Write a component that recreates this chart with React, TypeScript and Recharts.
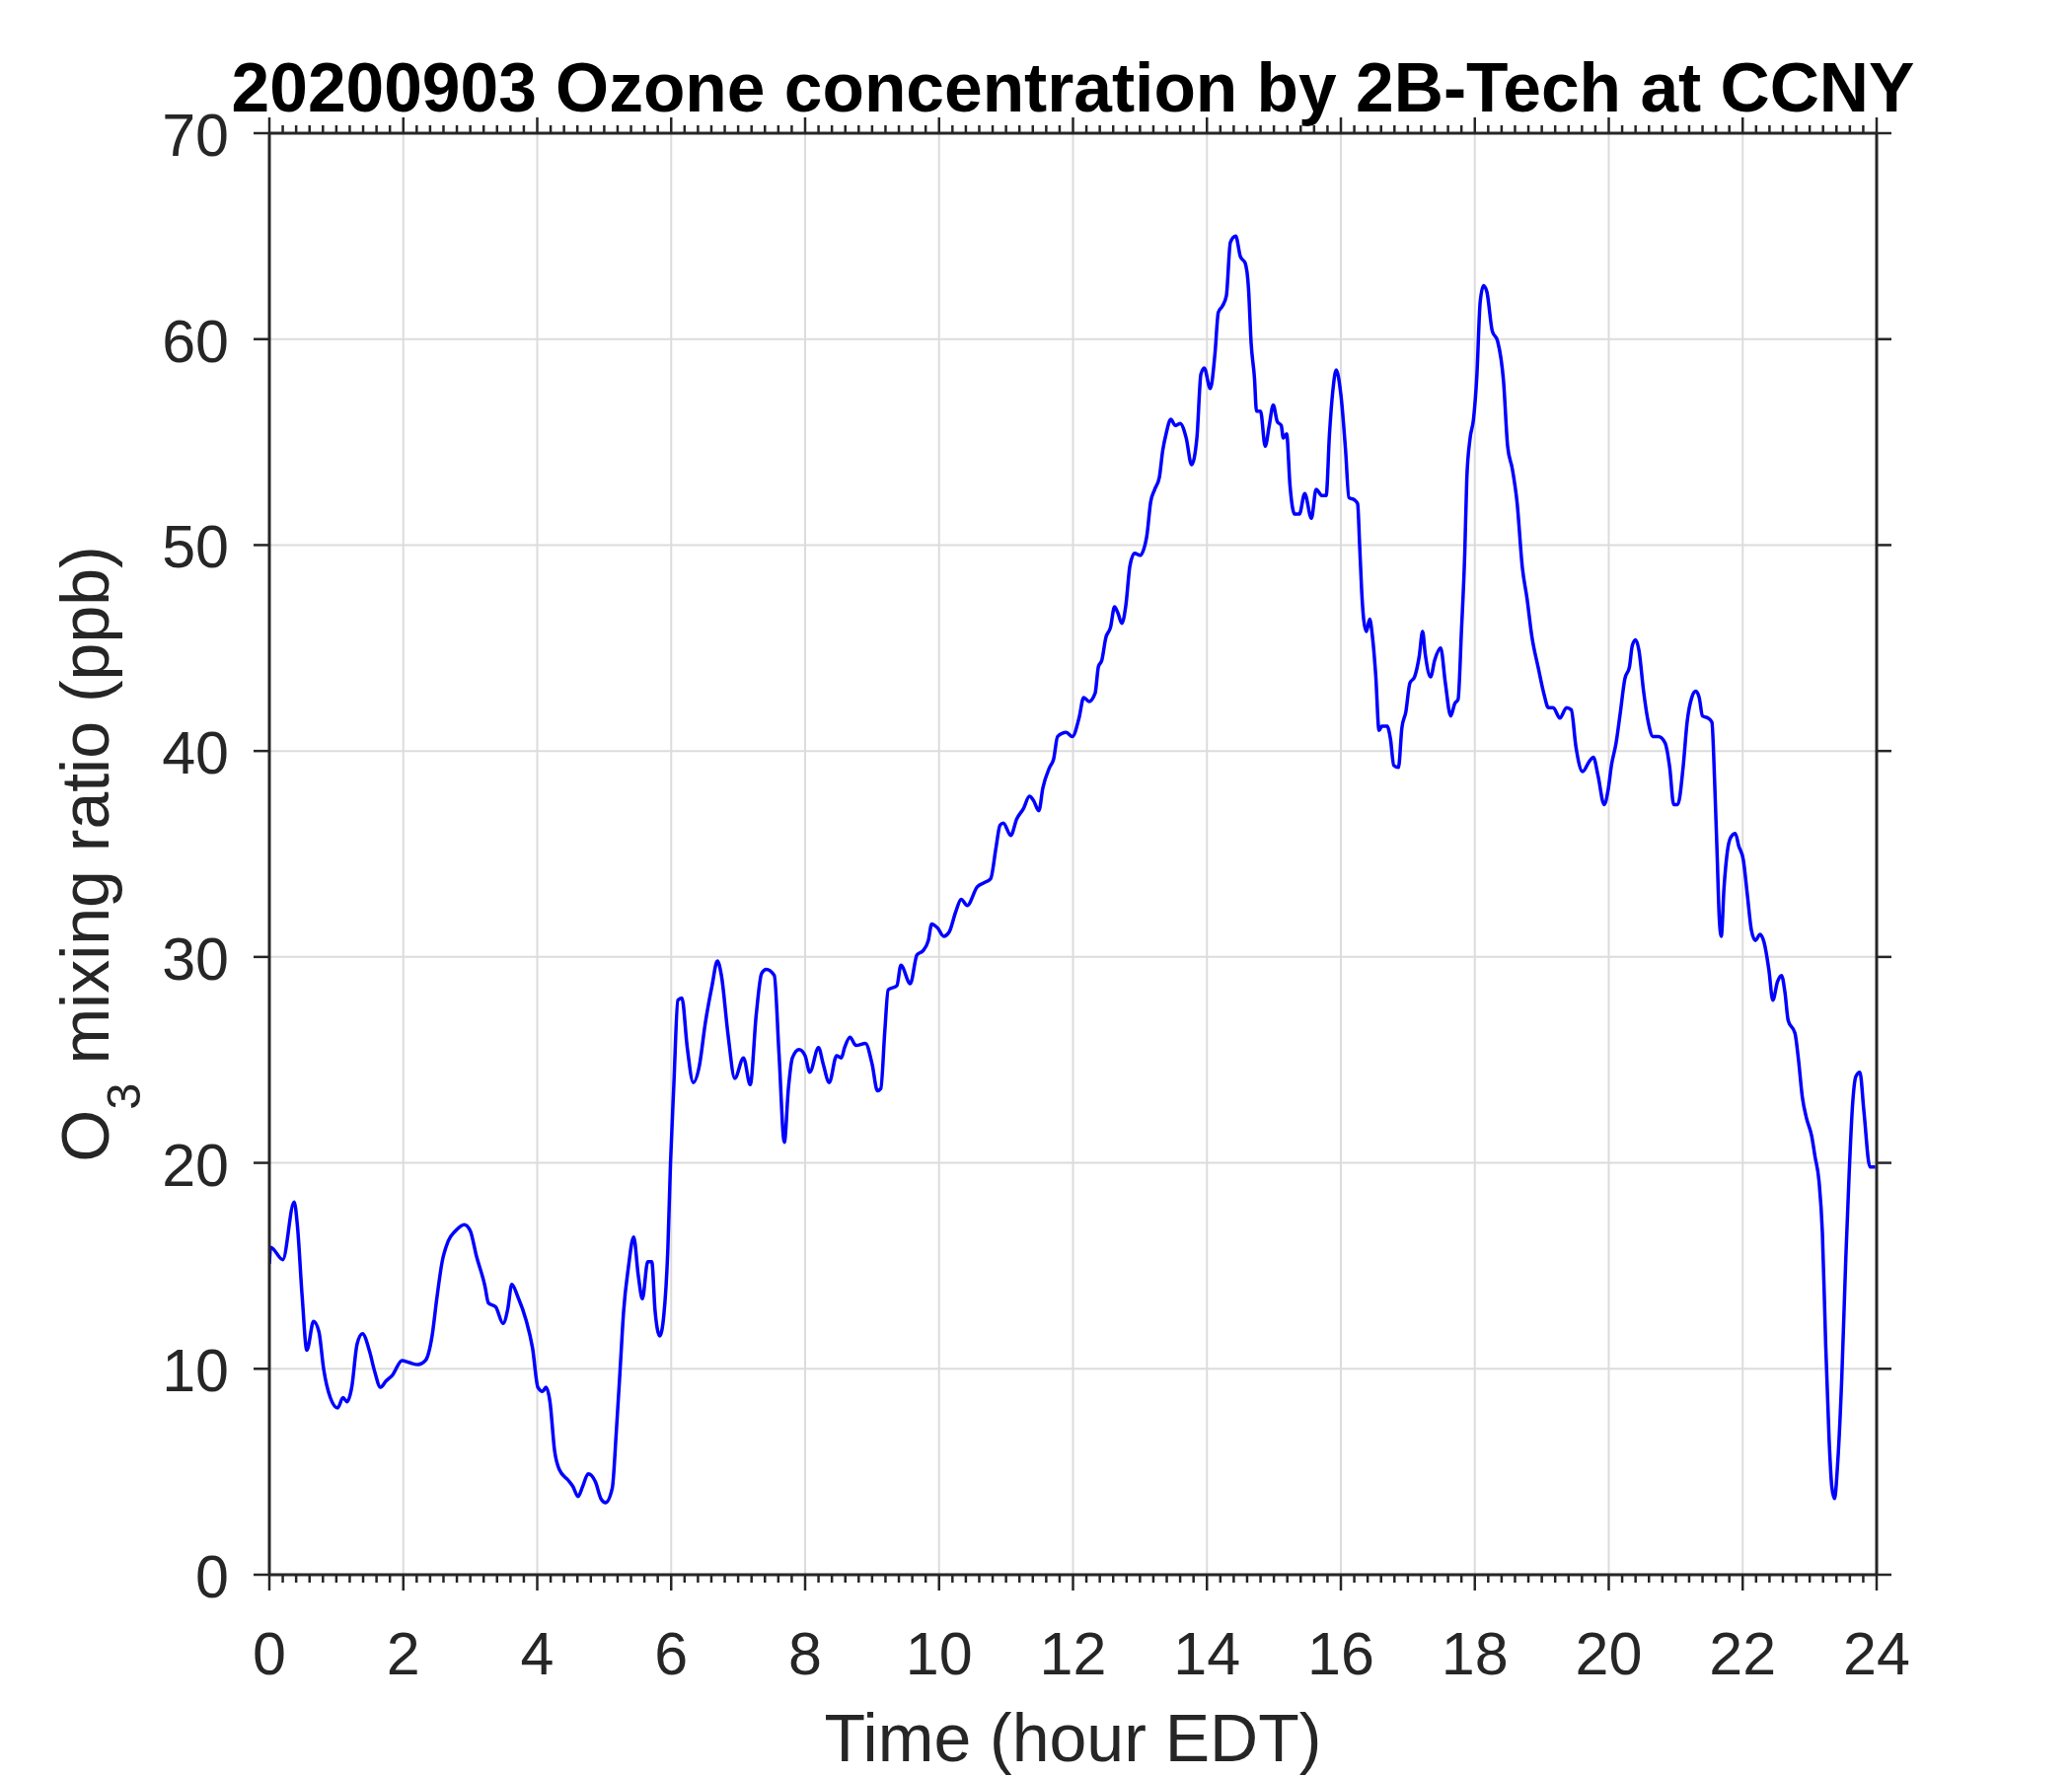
import React from 'react';
import { LineChart, Line, XAxis, YAxis, CartesianGrid, ReferenceLine } from 'recharts';

// ---------------- data ----------------
const hours = [
  0, 0.02, 0.2, 0.37, 0.42, 0.49, 0.56, 0.66, 0.74, 0.81, 0.91, 1.02, 1.1, 1.16, 1.23, 1.31, 1.39, 1.5, 1.57, 1.66,
  1.74, 1.84, 1.98, 2.09, 2.22, 2.33, 2.43, 2.5, 2.58, 2.67, 2.78, 2.91, 3.0, 3.09, 3.22, 3.27, 3.38, 3.49, 3.56, 3.62,
  3.71, 3.83, 3.93, 4.01, 4.08, 4.13, 4.19, 4.26, 4.33, 4.46, 4.53, 4.61, 4.68, 4.76, 4.87, 4.95, 5.02, 5.12, 5.18, 5.24,
  5.29, 5.36, 5.44, 5.51, 5.57, 5.65, 5.71, 5.76, 5.83, 5.89, 5.95, 5.99, 6.04, 6.1, 6.16, 6.24, 6.33, 6.42, 6.51, 6.61,
  6.69, 6.75, 6.85, 6.95, 7.08, 7.18, 7.27, 7.35, 7.42, 7.54, 7.61, 7.69, 7.75, 7.81, 7.91, 8.0, 8.07, 8.2, 8.27, 8.36,
  8.47, 8.54, 8.59, 8.67, 8.76, 8.9, 9.0, 9.08, 9.13, 9.19, 9.24, 9.37, 9.43, 9.57, 9.67, 9.76, 9.84, 9.89, 9.98, 10.07,
  10.15, 10.25, 10.33, 10.42, 10.57, 10.67, 10.77, 10.85, 10.91, 10.96, 11.07, 11.16, 11.26, 11.35, 11.41, 11.49, 11.55, 11.65, 11.71, 11.77,
  11.9, 11.99, 12.09, 12.16, 12.24, 12.33, 12.38, 12.43, 12.49, 12.56, 12.62, 12.67, 12.73, 12.79, 12.85, 12.92, 13.0, 13.1, 13.16, 13.22,
  13.29, 13.34, 13.39, 13.46, 13.53, 13.6, 13.69, 13.77, 13.85, 13.91, 13.96, 14.05, 14.12, 14.17, 14.23, 14.29, 14.35, 14.43, 14.5, 14.57,
  14.62, 14.66, 14.71, 14.74, 14.8, 14.87, 14.93, 14.99, 15.05, 15.11, 15.14, 15.19, 15.24, 15.31, 15.38, 15.46, 15.56, 15.63, 15.72, 15.78,
  15.83, 15.88, 15.93, 16.0, 16.07, 16.12, 16.2, 16.25, 16.28, 16.31, 16.34, 16.38, 16.43, 16.47, 16.52, 16.57, 16.61, 16.69, 16.74, 16.79,
  16.86, 16.91, 16.97, 17.03, 17.1, 17.17, 17.22, 17.26, 17.34, 17.4, 17.49, 17.56, 17.64, 17.7, 17.75, 17.8, 17.85, 17.88, 17.93, 17.98,
  18.03, 18.08, 18.13, 18.18, 18.26, 18.34, 18.43, 18.49, 18.56, 18.63, 18.71, 18.78, 18.85, 18.95, 19.03, 19.1, 19.17, 19.27, 19.37, 19.44,
  19.51, 19.61, 19.71, 19.77, 19.84, 19.93, 19.99, 20.04, 20.11, 20.17, 20.24, 20.31, 20.35, 20.4, 20.45, 20.52, 20.59, 20.66, 20.74, 20.84,
  20.91, 20.97, 21.03, 21.11, 21.17, 21.24, 21.3, 21.35, 21.4, 21.48, 21.54, 21.58, 21.62, 21.65, 21.68, 21.72, 21.77, 21.82, 21.89, 21.94,
  22.01, 22.07, 22.13, 22.19, 22.26, 22.32, 22.39, 22.45, 22.52, 22.58, 22.63, 22.68, 22.78, 22.83, 22.89, 22.95, 23.03, 23.08, 23.14, 23.19,
  23.24, 23.29, 23.33, 23.37, 23.42, 23.48, 23.54, 23.59, 23.64, 23.69, 23.75, 23.81, 23.9, 23.98,
];

const ozone = [
  15.1, 15.9, 15.3, 18.1, 16.9, 13.5, 10.9, 12.3, 11.8, 10.0, 8.6, 8.1, 8.6, 8.4, 9.1, 11.2, 11.7, 10.8, 9.9, 9.1,
  9.4, 9.7, 10.4, 10.3, 10.2, 10.4, 11.6, 13.4, 15.2, 16.2, 16.7, 17.0, 16.7, 15.5, 14.0, 13.2, 13.0, 12.2, 12.9, 14.1,
  13.5, 12.4, 11.0, 9.1, 8.9, 9.1, 8.4, 6.0, 5.1, 4.6, 4.3, 3.8, 4.3, 4.9, 4.5, 3.7, 3.5, 4.2, 6.9, 10.1,
  12.8, 14.9, 16.4, 14.5, 13.4, 15.2, 15.2, 12.8, 11.6, 12.6, 15.8, 20.0, 23.8, 27.9, 28.0, 25.6, 23.9, 24.7, 26.8, 28.6,
  29.8, 29.1, 26.2, 24.1, 25.1, 23.8, 27.2, 29.2, 29.4, 29.1, 25.3, 21.0, 23.6, 25.1, 25.5, 25.2, 24.4, 25.6, 24.8, 23.9,
  25.2, 25.1, 25.6, 26.1, 25.7, 25.8, 24.8, 23.5, 23.6, 26.4, 28.4, 28.6, 29.6, 28.7, 30.1, 30.3, 30.8, 31.6, 31.4, 31.0,
  31.2, 32.2, 32.8, 32.5, 33.4, 33.6, 33.8, 35.3, 36.4, 36.5, 35.9, 36.7, 37.2, 37.8, 37.6, 37.1, 38.2, 39.2, 39.6, 40.7,
  40.9, 40.7, 41.6, 42.6, 42.4, 42.8, 44.1, 44.4, 45.5, 46.0, 47.0, 46.7, 46.2, 47.1, 49.0, 49.6, 49.5, 50.4, 52.1, 52.7,
  53.3, 54.6, 55.4, 56.1, 55.8, 55.9, 55.2, 53.9, 55.2, 58.3, 58.6, 57.6, 59.3, 61.3, 61.6, 62.1, 64.7, 65.0, 64.0, 63.7,
  62.5, 59.8, 58.1, 56.5, 56.5, 54.8, 55.8, 56.8, 56.0, 55.8, 55.2, 55.4, 52.9, 51.5, 51.5, 52.5, 51.3, 52.7, 52.4, 52.4,
  55.4, 57.5, 58.5, 57.3, 54.6, 52.3, 52.2, 52.0, 50.0, 47.8, 46.4, 45.8, 46.4, 45.6, 43.7, 41.0, 41.2, 41.2, 40.6, 39.3,
  39.2, 41.1, 41.9, 43.3, 43.6, 44.6, 45.8, 44.7, 43.6, 44.4, 45.0, 43.3, 41.7, 42.3, 42.5, 45.8, 49.6, 53.2, 55.2, 56.1,
  58.2, 61.8, 62.6, 62.3, 60.4, 59.9, 57.9, 54.8, 53.7, 52.1, 48.9, 47.4, 45.6, 44.0, 42.8, 42.1, 42.1, 41.6, 42.1, 42.0,
  40.2, 39.0, 39.5, 39.7, 38.8, 37.4, 38.1, 39.3, 40.4, 41.8, 43.5, 44.1, 45.1, 45.4, 44.9, 42.9, 41.4, 40.7, 40.7, 40.4,
  39.2, 37.4, 37.4, 39.2, 41.4, 42.6, 42.9, 42.6, 41.7, 41.6, 41.4, 38.6, 34.8, 31.9, 31.0, 33.3, 35.1, 35.8, 36.0, 35.4,
  34.7, 33.0, 31.3, 30.8, 31.1, 30.7, 29.4, 27.9, 28.8, 29.1, 28.3, 26.9, 26.3, 25.1, 23.2, 22.2, 21.3, 20.3, 19.1, 16.6,
  11.1, 6.6, 4.3, 3.7, 5.5, 9.6, 15.4, 19.5, 22.8, 24.2, 24.4, 22.5, 19.8, 19.8,
];

const majorHours = [0, 2, 4, 6, 8, 10, 12, 14, 16, 18, 20, 22, 24];
const yTicks = [0, 10, 20, 30, 40, 50, 60, 70];
const minorPerMajor = 10;

const titleText = '20200903 Ozone concentration by 2B-Tech at CCNY';
const xLabelText = 'Time (hour EDT)';
const yLabelMain = 'O';
const yLabelSub = '3';
const yLabelRest = ' mixing ratio (ppb)';

// ---------------- derived ----------------
const data = hours.map((h, i) => ({ h, o: ozone[i] }));
const majorStep = majorHours[1] - majorHours[0];
const xTickValues: number[] = majorHours.flatMap((h, i) =>
  i === majorHours.length - 1
    ? [h]
    : Array.from({ length: minorPerMajor }, (_, j) => +(h + (j * majorStep) / minorPerMajor).toFixed(3))
);
const isMajor = (v: number) => Math.abs(v / majorStep - Math.round(v / majorStep)) < 1e-6;

// ---------------- style ----------------
const FONT = '"Liberation Sans", Arial, Helvetica, sans-serif';
const AXIS_COLOR = '#262626';
const AXIS_W = 3;
const W = 2100;
const H = 1800;
const MARGIN = { top: 105, right: 158, bottom: 84, left: 73 };
const LEFT_W = 200;
const RIGHT_W = 40;
const TOP_H = 30;
const BOTTOM_H = 120;
const plotLeft = MARGIN.left + LEFT_W;
const plotRight = W - MARGIN.right - RIGHT_W;
const plotTop = MARGIN.top + TOP_H;
const plotBottom = H - MARGIN.bottom - BOTTOM_H;
const plotCx = (plotLeft + plotRight) / 2;
const plotCy = (plotTop + plotBottom) / 2;

const BottomTick = (props: any) => {
  const { x, y, payload } = props;
  const major = isMajor(payload.value);
  return (
    <g>
      <line x1={x} x2={x} y1={y} y2={y + (major ? 16 : 8)} stroke={AXIS_COLOR} strokeWidth={2.5} />
      {major && (
        <text x={x} y={y + 101} textAnchor="middle" fontSize={61} fill={AXIS_COLOR} fontFamily={FONT}>
          {payload.value}
        </text>
      )}
    </g>
  );
};

const TopTick = (props: any) => {
  const { x, y, payload } = props;
  const major = isMajor(payload.value);
  return <line x1={x} x2={x} y1={y} y2={y - (major ? 16 : 8)} stroke={AXIS_COLOR} strokeWidth={2.5} />;
};

const LeftTick = (props: any) => {
  const { x, y, payload } = props;
  return (
    <g>
      <line x1={x} x2={x - 16} y1={y} y2={y} stroke={AXIS_COLOR} strokeWidth={2.5} />
      <text x={x - 41} y={y + 23} textAnchor="end" fontSize={61} fill={AXIS_COLOR} fontFamily={FONT}>
        {payload.value}
      </text>
    </g>
  );
};

const RightTick = (props: any) => {
  const { x, y } = props;
  return <line x1={x} x2={x + 15} y1={y} y2={y} stroke={AXIS_COLOR} strokeWidth={2.5} />;
};

const TitleLabel = () => (
  <text x={plotCx} y={113} textAnchor="middle" fontSize={69.5} fontWeight="bold" fill="#000" fontFamily={FONT}>
    {titleText}
  </text>
);

const XLabel = () => (
  <text x={plotCx} y={1785} textAnchor="middle" fontSize={68} fill={AXIS_COLOR} fontFamily={FONT}>
    {xLabelText}
  </text>
);

const YLabel = () => (
  <text
    x={110}
    y={plotCy}
    transform={`rotate(-90 110 ${plotCy})`}
    textAnchor="middle"
    fontSize={68}
    fill={AXIS_COLOR}
    fontFamily={FONT}
  >
    <tspan>{yLabelMain}</tspan>
    <tspan dy={32} fontSize={49}>{yLabelSub}</tspan>
    <tspan dy={-32}>{yLabelRest}</tspan>
  </text>
);

export default function App() {
  return (
    <div style={{ position: 'absolute', left: 0, top: 0, width: W, height: H, background: '#fff' }}>
      <LineChart width={W} height={H} data={data} margin={MARGIN}>
        <CartesianGrid yAxisId="l" xAxisId="b" vertical={false} stroke="#dcdcdc" strokeWidth={2} />
        {majorHours.map((h) => (
          <ReferenceLine key={h} x={h} xAxisId="b" yAxisId="l" stroke="#dcdcdc" strokeWidth={2} />
        ))}
        <XAxis
          xAxisId="b"
          dataKey="h"
          type="number"
          domain={[0, 24]}
          allowDataOverflow
          ticks={xTickValues}
          interval={0}
          height={BOTTOM_H}
          tickLine={false}
          tickSize={0}
          tickMargin={0}
          tick={(p: any) => <BottomTick {...p} />}
          axisLine={{ stroke: AXIS_COLOR, strokeWidth: AXIS_W }}
          label={<XLabel />}
        />
        <XAxis
          xAxisId="t"
          dataKey="h"
          orientation="top"
          type="number"
          domain={[0, 24]}
          allowDataOverflow
          ticks={xTickValues}
          interval={0}
          height={TOP_H}
          tickLine={false}
          tickSize={0}
          tickMargin={0}
          tick={(p: any) => <TopTick {...p} />}
          axisLine={{ stroke: AXIS_COLOR, strokeWidth: AXIS_W }}
          label={<TitleLabel />}
        />
        <YAxis
          yAxisId="l"
          type="number"
          domain={[0, 70]}
          allowDataOverflow
          ticks={yTicks}
          interval={0}
          width={LEFT_W}
          tickLine={false}
          tickSize={0}
          tickMargin={0}
          tick={(p: any) => <LeftTick {...p} />}
          axisLine={{ stroke: AXIS_COLOR, strokeWidth: AXIS_W }}
          label={<YLabel />}
        />
        <YAxis
          yAxisId="r"
          orientation="right"
          type="number"
          domain={[0, 70]}
          allowDataOverflow
          ticks={yTicks}
          interval={0}
          width={RIGHT_W}
          tickLine={false}
          tickSize={0}
          tickMargin={0}
          tick={(p: any) => <RightTick {...p} />}
          axisLine={{ stroke: AXIS_COLOR, strokeWidth: AXIS_W }}
        />
        <Line
          xAxisId="b"
          yAxisId="l"
          type="monotone"
          dataKey="o"
          stroke="#0000ff"
          strokeWidth={3.5}
          dot={false}
          activeDot={false}
          isAnimationActive={false}
        />
      </LineChart>
    </div>
  );
}
